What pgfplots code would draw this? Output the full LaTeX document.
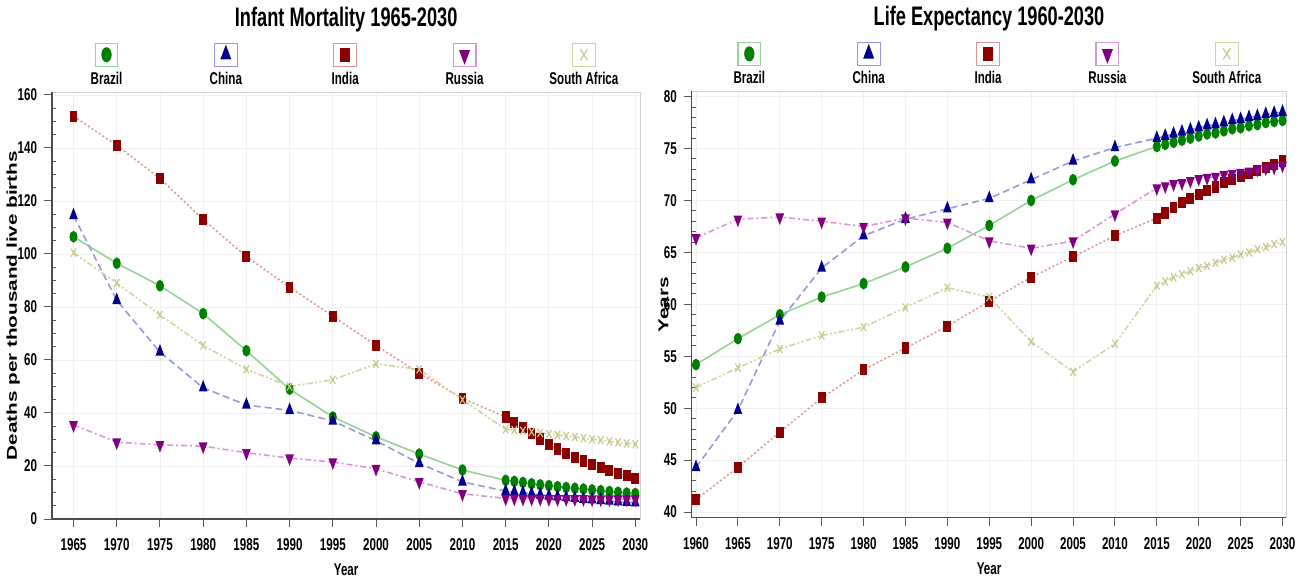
\documentclass[border=0pt]{standalone}
\usepackage{fontspec}
\setmainfont{Liberation Sans}[FakeStretch=0.68]
\newfontfamily\ylabfont{Liberation Sans}[FakeStretch=1.45]
\usepackage{pgfplots}
\pgfplotsset{compat=1.18}
\definecolor{brD}{RGB}{0,128,0}
\definecolor{brL}{RGB}{150,210,150}
\definecolor{chD}{RGB}{0,0,140}
\definecolor{chL}{RGB}{150,150,225}
\definecolor{inD}{RGB}{139,0,0}
\definecolor{inL}{RGB}{225,150,150}
\definecolor{ruD}{RGB}{128,0,128}
\definecolor{ruL}{RGB}{215,150,215}
\definecolor{saD}{RGB}{200,200,140}
\definecolor{saL}{RGB}{210,210,160}
\newcommand{\legfont}{\bfseries\fontsize{8.6}{9}\selectfont}
\pgfplotsset{
 legbox/.style n args={3}{legend image code/.code={
   \draw[solid,line width=0.6pt,draw=#1,fill=white] (-5.75pt,-5.75pt) rectangle (5.75pt,5.75pt);
   \draw[every mark/.append style={scale=1.35}] plot coordinates {(0pt,0pt)};
   \node[text=black,font=\legfont,inner sep=0pt,anchor=base] at (0pt,-15.15pt) {#2};
   \path[draw=none,fill=none] (-#3,-16pt) rectangle (#3,6pt);
 }},
 sBr/.style={color=brL, solid, line width=0.8pt, mark=*, mark size=2.5pt, mark options={solid, fill=brD, draw=brD, xscale=0.65}, legbox={brL}{Brazil}{29.6pt}},
 sCh/.style={color=chL, dash pattern=on 3.5pt off 2pt, line width=0.8pt, mark=triangle*, mark size=2.9pt, mark options={solid, fill=chD, draw=chD, xscale=0.65}, legbox={chL}{China}{29.6pt}},
 sIn/.style={color=inL, dash pattern=on 1pt off 1.2pt, line width=0.8pt, mark=square*, mark size=2.4pt, mark options={solid, fill=inD, draw=inD, xscale=0.65}, legbox={inL}{India}{29.6pt}},
 sRu/.style={color=ruL, dash pattern=on 3pt off 1.5pt on 1pt off 1.5pt, line width=0.8pt, mark=triangle*, mark size=2.9pt, mark options={solid, fill=ruD, draw=ruD, rotate=180, xscale=0.65}, legbox={ruL}{Russia}{29.6pt}},
 sSa/.style={color=saL, dash pattern=on 3pt off 1.2pt on 1pt off 1.2pt on 1pt off 1.2pt, line width=0.8pt, mark=x, mark size=2.9pt, mark options={solid, draw=saD, line width=0.6pt, xscale=0.65}, legbox={saL}{South Africa}{29.6pt}},
 common/.style={
   scale only axis,
   axis line style={draw=gray!35},
   grid=major,
   major grid style={draw=gray!12},
   tick align=outside,
   tick pos=left,
   major tick length=4pt,
   minor tick length=-2pt,
   tick style={draw=gray!70!black, line width=0.5pt},
   /pgf/number format/assume math mode=true,
   /pgf/number format/1000 sep={},
   ticklabel style={font=\bfseries\fontsize{8.6}{9}\selectfont},
   xticklabel style={yshift=-2.6pt},
   every axis x label/.style={at={(rel axis cs:0.5,0)}, anchor=center, yshift=-25.5pt, font=\bfseries\fontsize{8.6}{9}\selectfont},
   every axis title/.style={at={(0.5,1)}, anchor=base, yshift=33pt, font=\bfseries\fontsize{13.5}{14}\selectfont},
   legend columns=5,
   legend style={at={(0.5,1)}, anchor=south, yshift=2.3pt, draw=none, fill=none, inner sep=0pt, outer sep=0pt, nodes={inner sep=0pt, outer sep=0pt}, /tikz/column sep=0pt},
   after end axis/.code={\draw[gray!60!black, line width=0.6pt] (rel axis cs:0,1)--(rel axis cs:0,0)--(rel axis cs:1,0);},
 },
}
\begin{document}
\begin{tikzpicture}
\path (0,0) rectangle (651pt,290.5pt);
\begin{axis}[common,
  at={(24pt,29pt)}, anchor=south west,
  width=296.85pt, height=215.2pt,
  xmin=1962.5, xmax=2030.6, ymin=0, ymax=161,
  xtick={1965,1970,...,2030},
  ytick={0,20,...,160}, minor y tick num=3,
  title={Infant Mortality 1965-2030},
  xlabel={Year},
  every axis y label/.style={at={(rel axis cs:0,0.5)}, xshift=-19.5pt, rotate=90, anchor=center, font=\ylabfont\bfseries\fontsize{7.2}{8}\selectfont},
  ylabel={Deaths per thousand live births},
]
\addplot[sBr] coordinates {(1965,106.5)(1970,96.5)(1975,88)(1980,77.5)(1985,63.5)(1990,49)(1995,38.5)(2000,31)(2005,24.5)(2010,18.5)
 (2015,14.6)(2016,14.2)(2017,13.8)(2018,13.3)(2019,12.9)(2020,12.6)(2021,12.2)(2022,11.9)(2023,11.6)(2024,11.3)(2025,11.0)(2026,10.7)(2027,10.4)(2028,10.1)(2029,9.8)(2030,9.6)};
\addlegendentry{}
\addplot[sCh] coordinates {(1965,114.5)(1970,82.5)(1975,63)(1980,49.5)(1985,43)(1990,41)(1995,37)(2000,29.5)(2005,21)(2010,14)
 (2015,10.5)(2016,10.2)(2017,9.9)(2018,9.5)(2019,9.1)(2020,8.7)(2021,8.4)(2022,8.1)(2023,7.8)(2024,7.5)(2025,7.3)(2026,7.0)(2027,6.8)(2028,6.5)(2029,6.3)(2030,6.1)};
\addlegendentry{}
\addplot[sIn] coordinates {(1965,152)(1970,141)(1975,128.5)(1980,113)(1985,99)(1990,87.5)(1995,76.5)(2000,65.5)(2005,55)(2010,45.5)
 (2015,38.5)(2016,36.5)(2017,34.4)(2018,32.3)(2019,30.2)(2020,28.2)(2021,26.4)(2022,24.8)(2023,23.3)(2024,21.9)(2025,20.6)(2026,19.5)(2027,18.4)(2028,17.3)(2029,16.3)(2030,15.4)};
\addlegendentry{}
\addplot[sRu] coordinates {(1965,35.5)(1970,29)(1975,28)(1980,27.5)(1985,25)(1990,23)(1995,21.5)(2000,19)(2005,14)(2010,9.5)
 (2015,7.8)(2016,7.8)(2017,7.7)(2018,7.7)(2019,7.7)(2020,7.6)(2021,7.6)(2022,7.6)(2023,7.6)(2024,7.6)(2025,7.5)(2026,7.5)(2027,7.5)(2028,7.5)(2029,7.5)(2030,7.5)};
\addlegendentry{}
\addplot[sSa] coordinates {(1965,100.5)(1970,89)(1975,77)(1980,65.5)(1985,56.5)(1990,50)(1995,52.5)(2000,58.5)(2005,56.5)(2010,45)
 (2015,33.8)(2016,33.6)(2017,33.3)(2018,32.9)(2019,32.5)(2020,32.1)(2021,31.7)(2022,31.3)(2023,30.9)(2024,30.5)(2025,30.1)(2026,29.7)(2027,29.3)(2028,28.9)(2029,28.5)(2030,28.2)};
\addlegendentry{}
\end{axis}
\begin{axis}[common,
  at={(346.65pt,29.65pt)}, anchor=south west,
  width=300pt, height=215pt,
  xmin=1959.48, xmax=2030.47, ymin=39.46, ymax=80.5,
  xtick={1960,1965,...,2030},
  ytick={40,45,...,80}, minor y tick num=4,
  title={Life Expectancy 1960-2030},
  xlabel={Year},
  every axis y label/.style={at={(rel axis cs:0,0.5)}, xshift=-14.2pt, rotate=90, anchor=center, font=\ylabfont\bfseries\fontsize{7.2}{8}\selectfont},
  ylabel={Years},
]
\addplot[sBr] coordinates {(1960,54.2)(1965,56.7)(1970,59)(1975,60.7)(1980,62)(1985,63.6)(1990,65.4)(1995,67.6)(2000,70)(2005,72)(2010,73.8)
 (2015,75.2)(2016,75.4)(2017,75.6)(2018,75.8)(2019,76.0)(2020,76.2)(2021,76.4)(2022,76.5)(2023,76.7)(2024,76.9)(2025,77.0)(2026,77.2)(2027,77.3)(2028,77.5)(2029,77.6)(2030,77.7)};
\addlegendentry{}
\addplot[sCh] coordinates {(1960,44.3)(1965,49.8)(1970,58.4)(1975,63.5)(1980,66.6)(1985,68.2)(1990,69.2)(1995,70.2)(2000,72)(2005,73.8)(2010,75.1)
 (2015,76.0)(2016,76.2)(2017,76.4)(2018,76.6)(2019,76.8)(2020,77.0)(2021,77.2)(2022,77.3)(2023,77.5)(2024,77.7)(2025,77.8)(2026,78.0)(2027,78.1)(2028,78.3)(2029,78.4)(2030,78.5)};
\addlegendentry{}
\addplot[sIn] coordinates {(1960,41.2)(1965,44.3)(1970,47.7)(1975,51)(1980,53.7)(1985,55.8)(1990,57.9)(1995,60.3)(2000,62.6)(2005,64.6)(2010,66.6)
 (2015,68.3)(2016,68.8)(2017,69.3)(2018,69.8)(2019,70.2)(2020,70.6)(2021,71.0)(2022,71.3)(2023,71.7)(2024,72.0)(2025,72.3)(2026,72.6)(2027,72.9)(2028,73.2)(2029,73.5)(2030,73.8)};
\addlegendentry{}
\addplot[sRu] coordinates {(1960,66.4)(1965,68.2)(1970,68.4)(1975,68)(1980,67.5)(1985,68.3)(1990,67.9)(1995,66.1)(2000,65.4)(2005,66.1)(2010,68.7)
 (2015,71.2)(2016,71.4)(2017,71.6)(2018,71.7)(2019,71.9)(2020,72.1)(2021,72.2)(2022,72.3)(2023,72.5)(2024,72.6)(2025,72.7)(2026,72.8)(2027,73.0)(2028,73.1)(2029,73.2)(2030,73.4)};
\addlegendentry{}
\addplot[sSa] coordinates {(1960,52)(1965,53.9)(1970,55.7)(1975,57)(1980,57.8)(1985,59.7)(1990,61.6)(1995,60.7)(2000,56.4)(2005,53.5)(2010,56.2)
 (2015,61.8)(2016,62.2)(2017,62.6)(2018,62.9)(2019,63.2)(2020,63.5)(2021,63.7)(2022,64.0)(2023,64.3)(2024,64.5)(2025,64.8)(2026,65.0)(2027,65.3)(2028,65.5)(2029,65.8)(2030,66.0)};
\addlegendentry{}
\end{axis}
\end{tikzpicture}
\end{document}
